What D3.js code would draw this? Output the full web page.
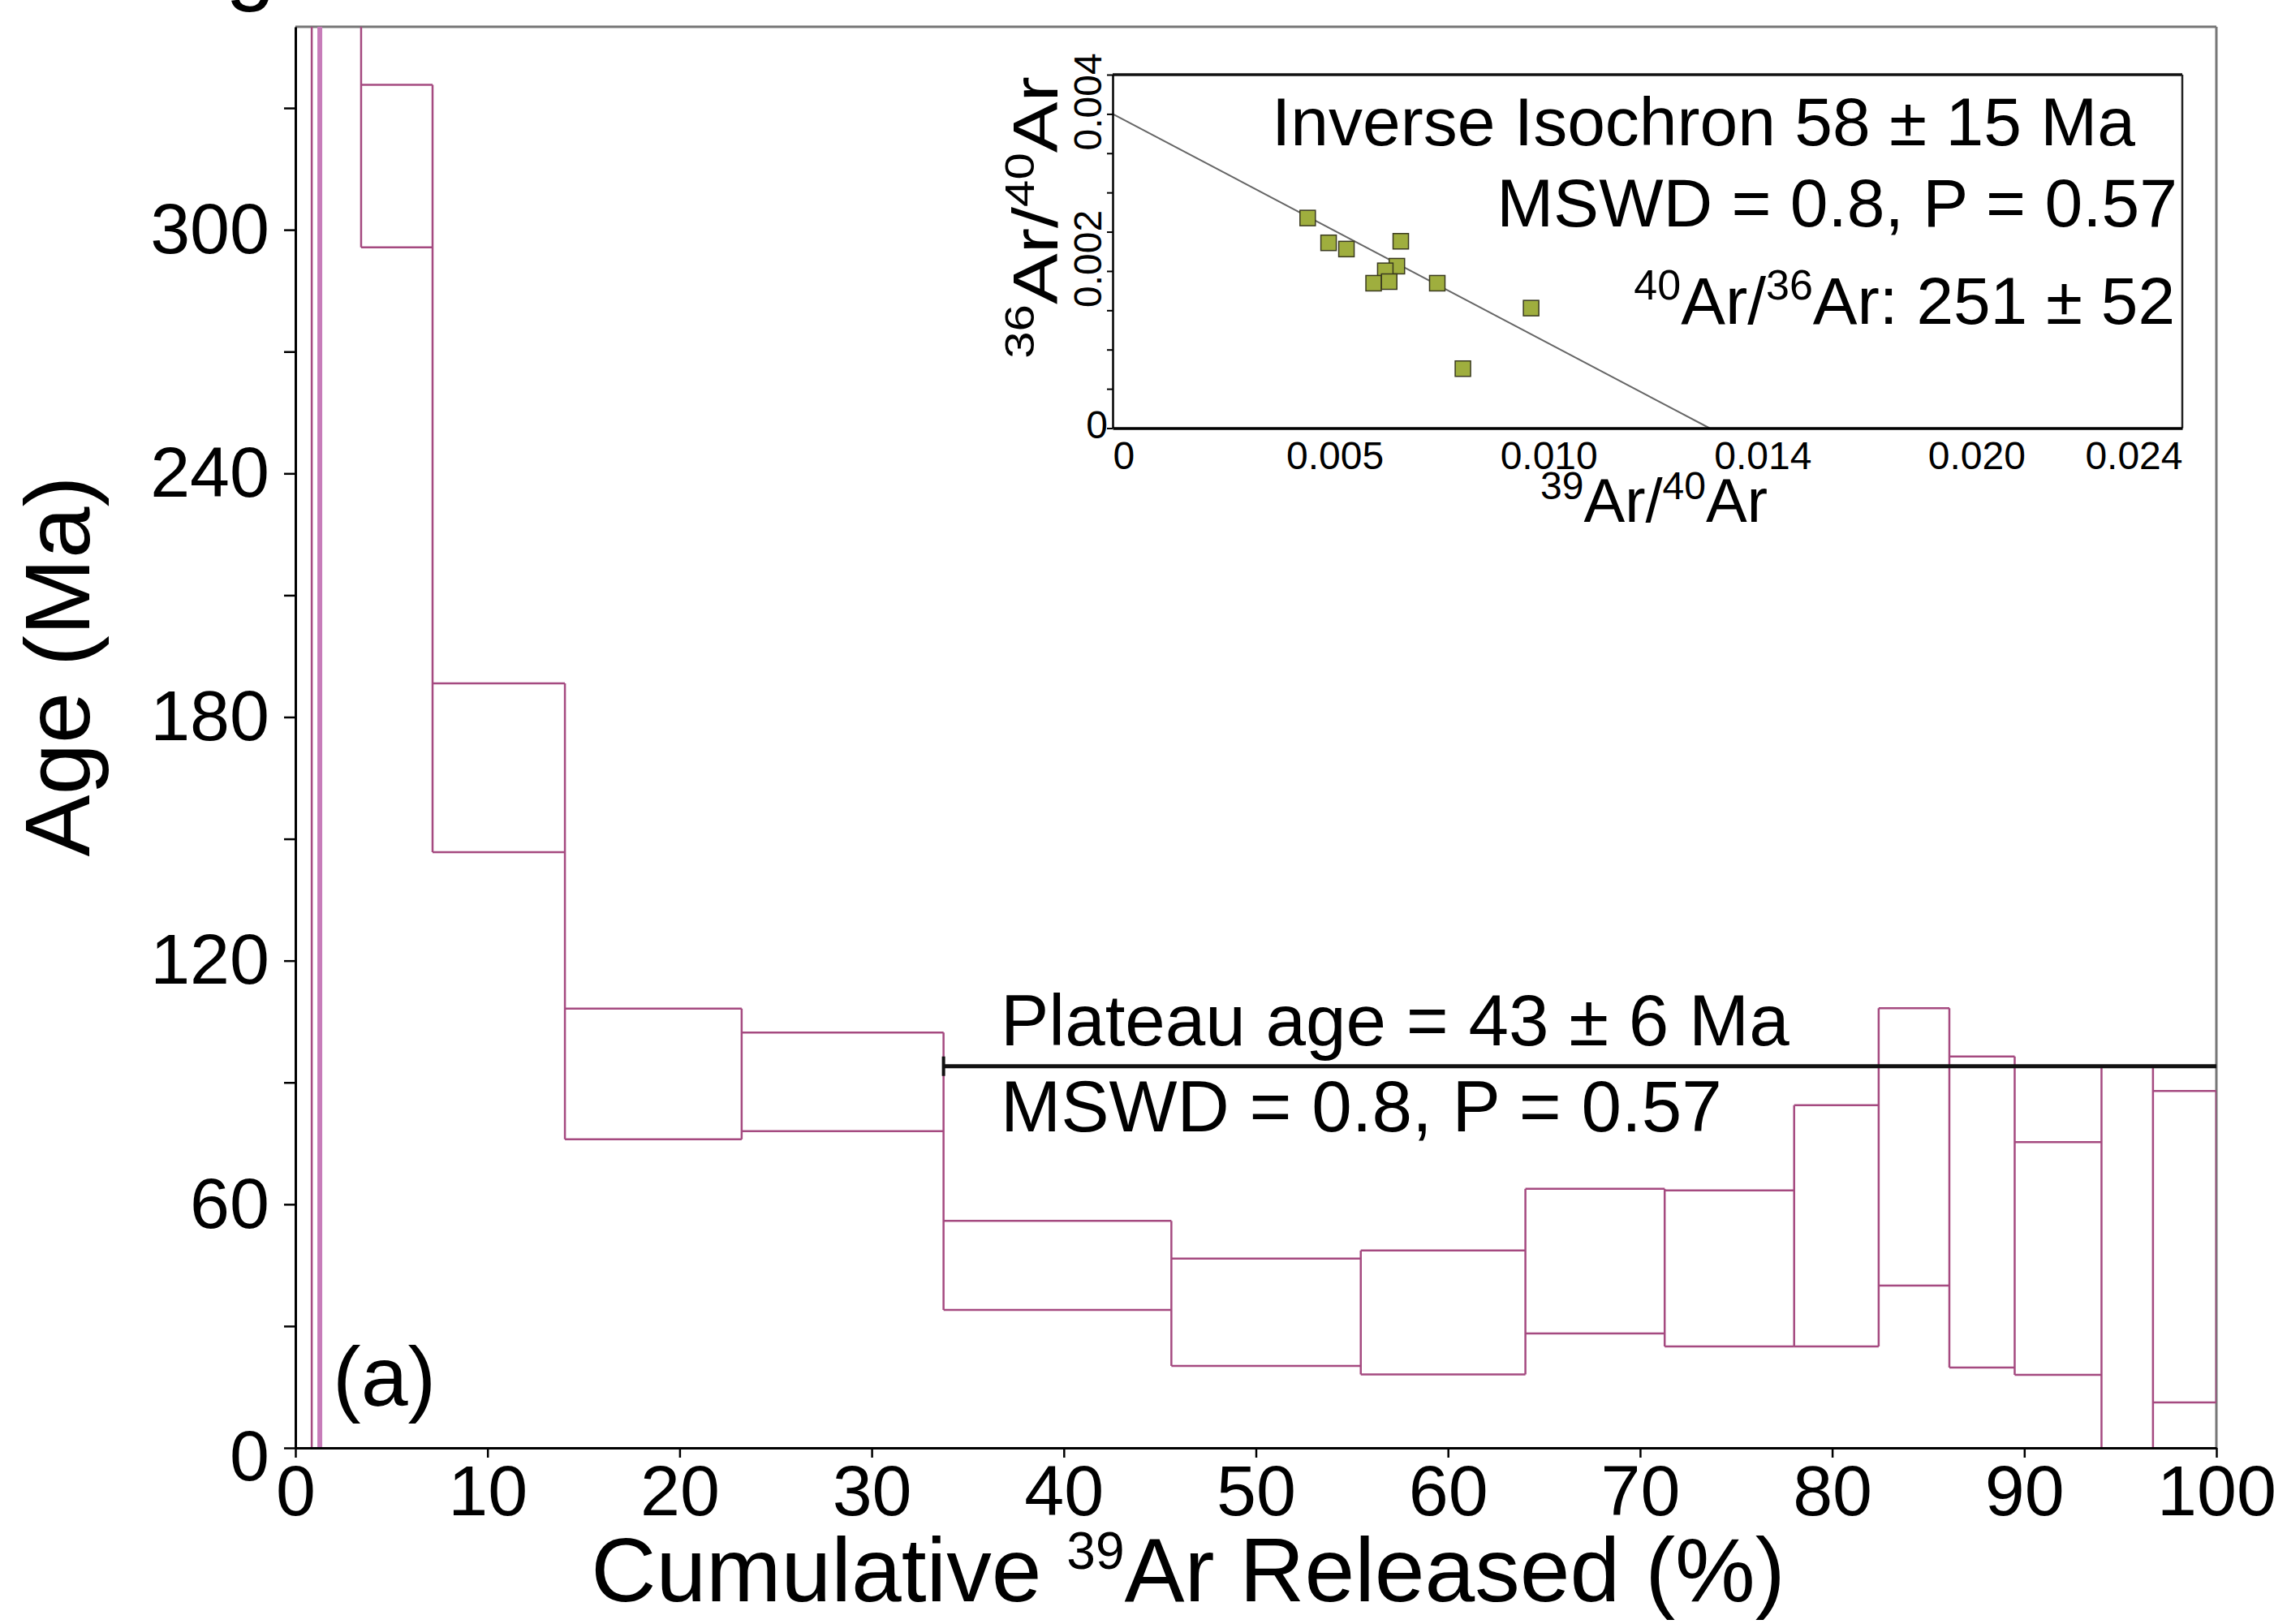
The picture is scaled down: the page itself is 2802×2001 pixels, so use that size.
<!DOCTYPE html>
<html lang="en">
<head>
<meta charset="UTF-8">
<title>Ar-Ar age spectrum</title>
<script src="https://cdn.jsdelivr.net/npm/d3@7"></script>
<style>
  body { margin: 0; background: #fff; }
  svg { display: block; font-family: "Liberation Sans", Arial, sans-serif; }
  .step line { stroke: #a54a80; stroke-width: 2.5; }
  .step line.first { stroke: #c77cb9; stroke-width: 6; }
  .axis path, .axis line { stroke: #000; }
  .axis text { fill: #000; }
</style>
</head>
<body>
<svg id="chart" width="2802" height="2001"></svg>
<script>
// step spectrum: cumulative 39Ar boundaries (%) and apparent age +- error (Ma)
const stepEdges = [0.85, 1.27, 3.42, 7.14, 14.03, 23.23, 33.74, 45.6, 55.46, 64.03,
                   71.28, 78.02, 82.42, 86.1, 89.5, 94.02, 96.7, 100];
const stepAge = [400, 420, 315.7, 167.5, 92.1, 90.15, 44.95, 33.4, 33.35, 46.0,
                 44.2, 54.7, 74.15, 58.1, 46.65, 37.0, 49.55];
const stepErr = [600, 40, 20, 20.8, 16.1, 12.15, 10.95, 13.2, 15.25, 17.8,
                 19.2, 29.7, 34.15, 38.3, 28.65, 56.9, 38.35];

const xTicks = [0, 10, 20, 30, 40, 50, 60, 70, 80, 90, 100];
const yTicks = [0, 30, 60, 90, 120, 150, 180, 210, 240, 270, 300, 330];
const yLabels = [0, 60, 120, 180, 240, 300];

// plateau bar
const plateauFrom = 33.74, plateauTo = 100, plateauBarAge = 94;
const plateauText = ["Plateau age = 43 \u00b1 6 Ma", "MSWD = 0.8, P = 0.57"];

// inverse isochron inset
const isoX = [0.004558, 0.005047, 0.005464, 0.006734, 0.006643, 0.006372,
              0.006099, 0.006463, 0.007587, 0.009780, 0.008186];
const isoY = [0.002675, 0.002359, 0.002280, 0.002379, 0.002062, 0.002003,
              0.001845, 0.001865, 0.001845, 0.001528, 0.000757];
const isoInterceptY = 0.004, isoInterceptX = 0.01395;
const isoXTicks = [0, 0.005, 0.010, 0.015, 0.020, 0.025];
const isoXLabels = ["0", "0.005", "0.010", "0.014", "0.020", "0.024"];
const isoYTicks = d3.range(0, 0.00451, 0.0005);
const isoYLabels = [[0.002, "0.002"], [0.004, "0.004"]];

const svg = d3.select("#chart");
svg.append("rect").attr("width", 2802).attr("height", 2001).attr("fill", "#fff");

const x = d3.scaleLinear().domain([0, 100]).range([364, 2731]);
const y = d3.scaleLinear().domain([0, 350]).range([1784, 33]);

svg.append("defs").append("clipPath").attr("id", "plotclip")
  .append("rect")
  .attr("x", x(0)).attr("y", y(350))
  .attr("width", x(100) - x(0)).attr("height", y(0) - y(350));

// stray glyph cut off at the top edge of the figure
svg.append("text").attr("x", 278).attr("y", -8)
  .attr("font-size", 110).text("g");

// frame (top and right in grey)
svg.append("line").attr("x1", x(0)).attr("x2", x(100)).attr("y1", y(350)).attr("y2", y(350))
  .attr("stroke", "#777").attr("stroke-width", 3);
svg.append("line").attr("x1", x(100)).attr("x2", x(100)).attr("y1", y(350)).attr("y2", y(0))
  .attr("stroke", "#777").attr("stroke-width", 3);

// steps
const steps = stepAge.map((a, i) => ({
  x0: stepEdges[i], x1: stepEdges[i + 1], lo: a - stepErr[i], hi: a + stepErr[i]
}));
const g = svg.append("g").attr("class", "step").attr("clip-path", "url(#plotclip)");
steps.forEach(function(s, i) {
  ["lo", "hi"].forEach(function(k) {
    g.append("line")
      .attr("x1", x(s.x0)).attr("x2", x(s.x1))
      .attr("y1", y(s[k])).attr("y2", y(s[k]));
  });
});
stepEdges.forEach(function(e, j) {
  const adj = steps.slice(Math.max(0, j - 1), j + 1);
  const lo = d3.min(adj, d => d.lo), hi = d3.max(adj, d => d.hi);
  g.append("line")
    .attr("class", j === 1 ? "first" : null)
    .attr("stroke", j === 0 ? "#c77cb9" : null)
    .attr("x1", x(e)).attr("x2", x(e))
    .attr("y1", y(lo)).attr("y2", y(hi));
});

// plateau bar
const pb = svg.append("g").attr("stroke", "#111").attr("stroke-width", 5);
pb.append("line").attr("x1", x(plateauFrom)).attr("x2", x(plateauTo))
  .attr("y1", y(plateauBarAge)).attr("y2", y(plateauBarAge));
pb.append("line").attr("x1", x(plateauFrom)).attr("x2", x(plateauFrom))
  .attr("y1", y(plateauBarAge) - 12).attr("y2", y(plateauBarAge) + 12)
  .attr("stroke-width", 4);
plateauText.forEach(function(t, i) {
  svg.append("text").attr("x", 1233).attr("y", 1288 + i * 106)
    .attr("font-size", 89).text(t);
});

svg.append("text").attr("x", 410).attr("y", 1732).attr("font-size", 104).text("(a)");

// axes
const xAxis = svg.append("g").attr("class", "axis")
  .attr("transform", `translate(0,${y(0)})`)
  .call(d3.axisBottom(x).tickValues(xTicks).tickSizeInner(12).tickSizeOuter(0).tickPadding(9));
const yAxis = svg.append("g").attr("class", "axis")
  .attr("transform", `translate(${x(0)},0)`)
  .call(d3.axisLeft(y).tickValues(yTicks).tickSizeInner(14).tickSizeOuter(0).tickPadding(18)
    .tickFormat(d => yLabels.includes(d) ? d : ""));
[xAxis, yAxis].forEach(function(a) {
  a.select(".domain").attr("stroke-width", 3);
  a.selectAll(".tick line").attr("stroke-width", 2.5);
  a.selectAll("text").attr("font-size", 88).attr("font-family", null);
});
yAxis.selectAll(".tick").filter(d => d === 0).select("text").attr("dy", "0.45em");

svg.append("text").attr("transform", "translate(110,821) rotate(-90)")
  .attr("text-anchor", "middle").attr("font-size", 114).text("Age (Ma)");

const xt = svg.append("text").attr("x", 1464).attr("y", 1973)
  .attr("text-anchor", "middle").attr("font-size", 111);
xt.append("tspan").text("Cumulative ");
xt.append("tspan").attr("font-size", 64).attr("dy", -40).text("39");
xt.append("tspan").attr("dy", 40).text("Ar Released (%)");

// inset
const ix = d3.scaleLinear().domain([0, 0.025]).range([1371, 2689]);
const iy = d3.scaleLinear().domain([0, 0.0045]).range([527.5, 92]);

const ins = svg.append("g");
ins.append("line").attr("x1", ix(0)).attr("x2", ix(0.025)).attr("y1", iy(0.0045)).attr("y2", iy(0.0045))
  .attr("stroke", "#111").attr("stroke-width", 3.5);
ins.append("line").attr("x1", ix(0.025)).attr("x2", ix(0.025)).attr("y1", iy(0.0045)).attr("y2", iy(0))
  .attr("stroke", "#222").attr("stroke-width", 2.5);

ins.append("line")
  .attr("x1", ix(0)).attr("y1", iy(isoInterceptY))
  .attr("x2", ix(isoInterceptX)).attr("y2", iy(0))
  .attr("stroke", "#666").attr("stroke-width", 2);

ins.selectAll("rect.pt").data(isoX.map((v, i) => [v, isoY[i]]))
  .join("rect").attr("class", "pt")
  .attr("x", d => ix(d[0]) - 9.5).attr("y", d => iy(d[1]) - 9.5)
  .attr("width", 19).attr("height", 19)
  .attr("fill", "#9fae3e").attr("stroke", "#3a3a20").attr("stroke-width", 1.5);

const ixAxis = ins.append("g").attr("class", "axis")
  .attr("transform", `translate(0,${iy(0)})`)
  .call(d3.axisBottom(ix).tickValues(isoXTicks).tickSize(0).tickPadding(16)
    .tickFormat((d, i) => isoXLabels[i]));
ixAxis.select(".domain").attr("stroke-width", 3.5);
ixAxis.selectAll("text").attr("font-size", 48).attr("font-family", null).attr("dx", 10);
ixAxis.selectAll(".tick text").filter((d, i) => i === 0).attr("text-anchor", "start").attr("dx", 0);
ixAxis.selectAll(".tick text").filter((d, i) => i === isoXTicks.length - 1).attr("text-anchor", "end").attr("dx", 0);

const iyAxis = ins.append("g").attr("class", "axis")
  .attr("transform", `translate(${ix(0)},0)`)
  .call(d3.axisLeft(iy).tickValues(isoYTicks).tickSizeInner(7).tickSizeOuter(0).tickFormat(""));
iyAxis.select(".domain").attr("stroke-width", 2.5);
iyAxis.selectAll(".tick line").attr("stroke-width", 2);

ins.append("text").attr("x", ix(0) - 6).attr("y", iy(0) + 12)
  .attr("text-anchor", "end").attr("font-size", 48).text("0");
isoYLabels.forEach(function(l) {
  ins.append("text").attr("transform", `translate(${ix(0) - 14},${iy(l[0]) - 15}) rotate(-90)`)
    .attr("text-anchor", "middle").attr("font-size", 48).text(l[1]);
});

const ixt = ins.append("text").attr("x", 2038).attr("y", 643)
  .attr("text-anchor", "middle").attr("font-size", 76);
ixt.append("tspan").attr("font-size", 48).attr("dy", -28).text("39");
ixt.append("tspan").attr("dy", 28).text("Ar/");
ixt.append("tspan").attr("font-size", 48).attr("dy", -28).text("40");
ixt.append("tspan").attr("dy", 28).text("Ar");

// y title of the inset is drawn narrow, as in the figure
const iyt = ins.append("text").attr("transform", "translate(1303,268) rotate(-90) scale(1,0.82)")
  .attr("text-anchor", "middle").attr("font-size", 94);
iyt.append("tspan").attr("font-size", 60).attr("dy", -35).text("36");
iyt.append("tspan").attr("dy", 35).text("Ar/");
iyt.append("tspan").attr("font-size", 60).attr("dy", -35).text("40");
iyt.append("tspan").attr("dy", 35).text("Ar");

ins.append("text").attr("x", 2631).attr("y", 179).attr("text-anchor", "end")
  .attr("font-size", 84).text("Inverse Isochron 58 \u00b1 15 Ma");
ins.append("text").attr("x", 2683).attr("y", 279).attr("text-anchor", "end")
  .attr("font-size", 84).text("MSWD = 0.8, P = 0.57");
const ratio = ins.append("text").attr("x", 2680).attr("y", 399).attr("text-anchor", "end")
  .attr("font-size", 82);
ratio.append("tspan").attr("font-size", 52).attr("dy", -30).text("40");
ratio.append("tspan").attr("dy", 30).text("Ar/");
ratio.append("tspan").attr("font-size", 52).attr("dy", -30).text("36");
ratio.append("tspan").attr("dy", 30).text("Ar: 251 \u00b1 52");
</script>
</body>
</html>
